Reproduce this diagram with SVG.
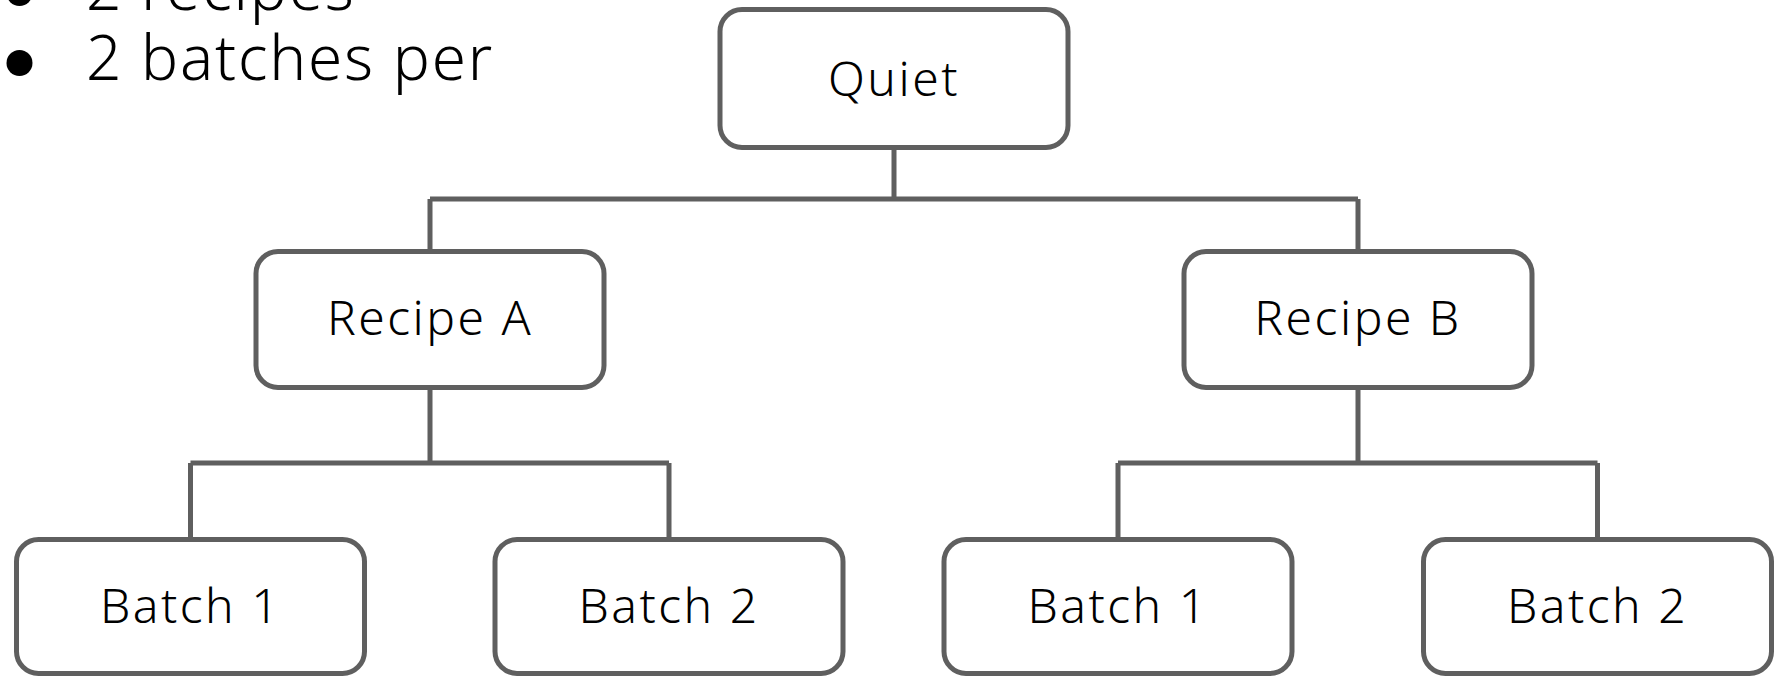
<svg xmlns="http://www.w3.org/2000/svg" width="1785" height="679" viewBox="0 0 1785 679">
<style>
.box{fill:#ffffff;stroke:#5f5f5f;stroke-width:5}
.lbl{font-family:"Noto Sans","DejaVu Sans",sans-serif;font-size:48px;font-weight:300;letter-spacing:2.5px;fill:#000000;text-anchor:middle}
.bul{font-family:"Noto Sans","DejaVu Sans",sans-serif;font-size:62px;font-weight:300;letter-spacing:1.8px;fill:#000000}
.conn{fill:none;stroke:#5f5f5f;stroke-width:5;stroke-linejoin:miter;stroke-linecap:butt}
</style>
<rect width="1785" height="679" fill="#ffffff"/>
<g id="bullets">
<circle cx="19.5" cy="-7" r="13" fill="#000000"/>
<text class="bul" x="86" y="10">2 recipes</text>
<circle cx="19.5" cy="63" r="13" fill="#000000"/>
<text class="bul" x="86" y="80">2 batches per</text>
</g>
<g id="connectors">
<path class="conn" d="M894 148 V199 M430 199 H1358 M430 199 V251 M1358 199 V251"/>
<path class="conn" d="M430 388 V463 M190.5 463 H669 M190.5 463 V539 M669 463 V539"/>
<path class="conn" d="M1358 388 V463 M1118 463 H1597.5 M1118 463 V539 M1597.5 463 V539"/>
</g>
<g id="quiet">
<rect class="box" x="720" y="9.5" width="348" height="138" rx="22"/>
<text class="lbl" x="894" y="96">Quiet</text>
</g>
<g id="recipeA">
<rect class="box" x="256" y="251.5" width="348" height="136" rx="22"/>
<text class="lbl" x="430" y="335">Recipe A</text>
</g>
<g id="recipeB">
<rect class="box" x="1184" y="251.5" width="348" height="136" rx="22"/>
<text class="lbl" x="1358" y="335">Recipe B</text>
</g>
<g id="a-batch1">
<rect class="box" x="16.5" y="539.5" width="348" height="134" rx="22"/>
<text class="lbl" x="190.5" y="623">Batch 1</text>
</g>
<g id="a-batch2">
<rect class="box" x="495" y="539.5" width="348" height="134" rx="22"/>
<text class="lbl" x="669" y="623">Batch 2</text>
</g>
<g id="b-batch1">
<rect class="box" x="944" y="539.5" width="348" height="134" rx="22"/>
<text class="lbl" x="1118" y="623">Batch 1</text>
</g>
<g id="b-batch2">
<rect class="box" x="1423.5" y="539.5" width="348" height="134" rx="22"/>
<text class="lbl" x="1597.5" y="623">Batch 2</text>
</g>
</svg>
